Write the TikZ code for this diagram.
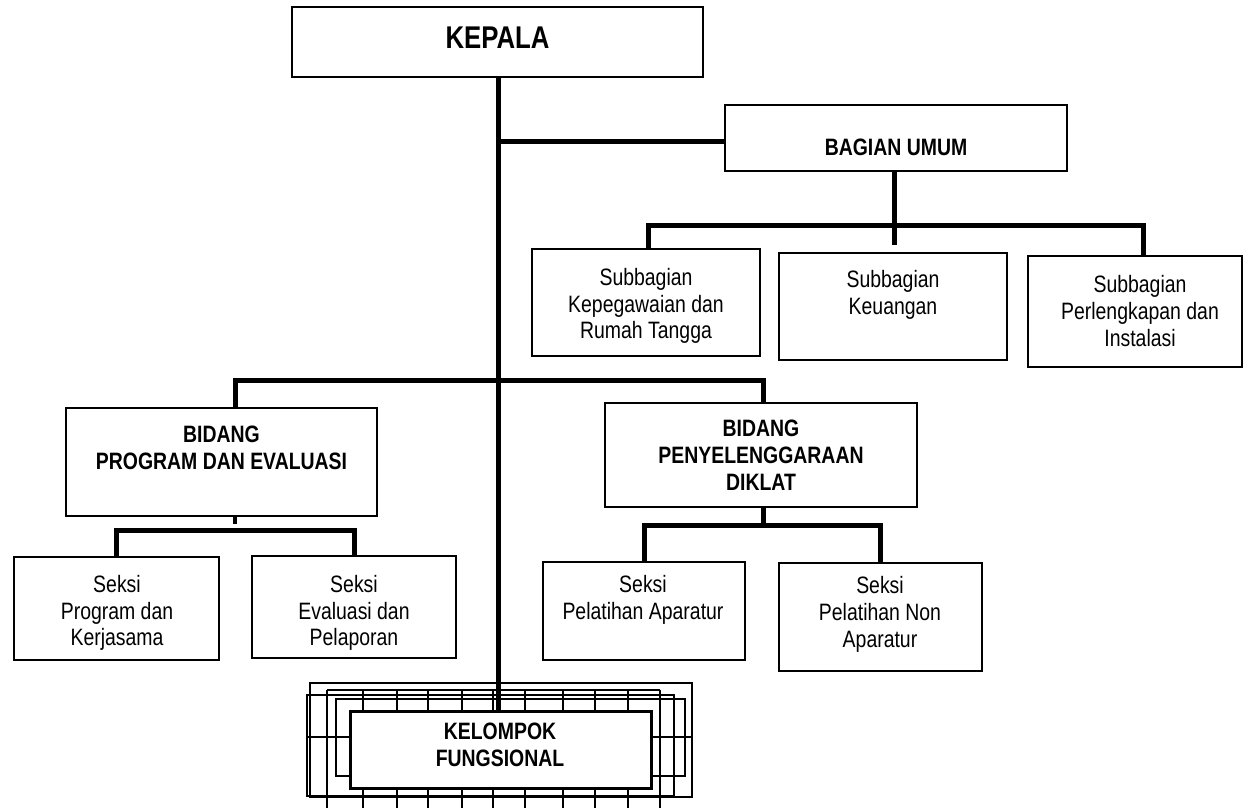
\documentclass[tikz,border=0pt]{standalone}
\usepackage{fontspec}
\setmainfont{Liberation Sans}[FakeStretch=0.82]
\begin{document}
\begin{tikzpicture}[x=1pt,y=-1pt,
  box/.style={draw=black,line width=2.5pt,fill=white,rectangle,inner sep=0pt,outer sep=0pt},
  conn/.style={draw=black,line width=5pt},
  stubline/.style={draw=black,line width=4pt},
  back/.style={draw=black,line width=1.8pt},
  txt/.style={inner sep=0pt,anchor=north,align=center,font=\fontsize{23.7}{26.7}\selectfont},
  btxt/.style={inner sep=0pt,anchor=north,align=center,font=\fontsize{23.7}{27}\selectfont\bfseries}]
\useasboundingbox[fill=white] (0,0) rectangle (1244,808);

% boxes
\node[box,minimum width=411pt,minimum height=70pt] (kepala) at (497.5,42) {};
\node[box,minimum width=342pt,minimum height=66pt] (bagian) at (896,138) {};
\node[box,minimum width=228pt,minimum height=107pt] (sb1) at (646,302.5) {};
\node[box,minimum width=228pt,minimum height=107pt] (sb2) at (893,306.5) {};
\node[box,minimum width=214pt,minimum height=111pt] (sb3) at (1135,311.5) {};
\node[box,minimum width=311pt,minimum height=108pt] (bp) at (221.5,462) {};
\node[box,minimum width=312pt,minimum height=104pt] (bd) at (761,455) {};
\node[box,minimum width=205pt,minimum height=103pt] (s1) at (116.5,608.5) {};
\node[box,minimum width=204pt,minimum height=102pt] (s2) at (354,607) {};
\node[box,minimum width=202pt,minimum height=98pt] (s3) at (644,611) {};
\node[box,minimum width=203pt,minimum height=108pt] (s4) at (880.5,617) {};

% stacked background of the functional group
\draw[back] (310,683) rectangle (692,797);
\draw[back] (307,695) rectangle (674,796);
\draw[back] (336,699) rectangle (685,776);
\draw[back] (327,690) -- (660,690);
\draw[back] (307,737) -- (692,737);
\foreach \gx in {327,363,397,428,462,493,525,563,595,628,660}
  \draw[back] (\gx,690) -- (\gx,808);
\node[box,line width=3pt,minimum width=301pt,minimum height=77pt] (kf) at (500.5,749.5) {};

% connectors
\coordinate (bstub) at (894,245);
\coordinate (pstub) at (235,524);
\draw[conn] (kepala.south -| 498,0) -- (498,0 |- kf.north);
\draw[conn] (498,141) -- (bagian.west |- 0,141);
\draw[conn] (894,0 |- bagian.south) -- (bstub);
\draw[conn] (648,0 |- sb1.north) -- (648,225) -- (1143,225) -- (1143,0 |- sb3.north);
\draw[conn] (235,0 |- bp.north) -- (235,380) -- (763,380) -- (763,0 |- bd.north);
\draw[stubline] (235,0 |- bp.south) -- (pstub);
\draw[conn] (s1.north) -- (s1.north |- 0,530) -- (s2.north |- 0,530) -- (s2.north);
\draw[conn] (763,0 |- bd.south) -- (763,525);
\draw[conn] (s3.north) -- (s3.north |- 0,525) -- (s4.north |- 0,525) -- (s4.north);

% texts
\node[inner sep=0pt,font=\fontsize{31.4}{31.4}\selectfont\bfseries] (tkepala) at (497.5,38) {KEPALA};
\node[inner sep=0pt,font=\fontsize{23.7}{27}\selectfont\bfseries] (tbagian) at (896,147) {BAGIAN UMUM};
\node[txt] (tsb1) at (646,268) {Subbagian\\Kepegawaian dan\\Rumah Tangga};
\node[txt] (tsb2) at (893,270.5) {Subbagian\\Keuangan};
\node[txt] (tsb3) at (1140,275.5) {Subbagian\\Perlengkapan dan\\Instalasi};
\node[btxt] (tbp) at (221.5,425.5) {BIDANG\\PROGRAM DAN EVALUASI};
\node[btxt] (tbd) at (761,419.5) {BIDANG\\PENYELENGGARAAN\\DIKLAT};
\node[txt] (ts1) at (117,575) {Seksi\\Program dan\\Kerjasama};
\node[txt] (ts2) at (354,575) {Seksi\\Evaluasi dan\\Pelaporan};
\node[txt] (ts3) at (643,575) {Seksi\\Pelatihan Aparatur};
\node[txt] (ts4) at (880,576.5) {Seksi\\Pelatihan Non\\Aparatur};
\node[btxt] (tkf) at (500,722.3) {KELOMPOK\\FUNGSIONAL};
\end{tikzpicture}
\end{document}
